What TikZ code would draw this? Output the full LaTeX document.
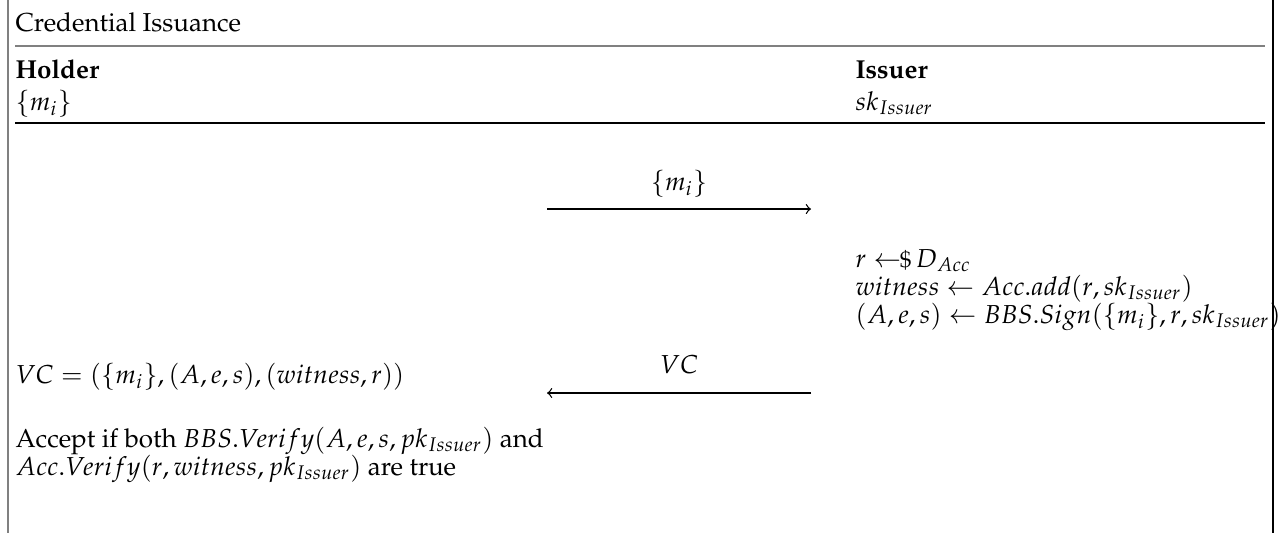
\documentclass[tikz,border=0pt]{standalone}
\usepackage[T1]{fontenc}
\usepackage{mathpazo}
\begin{document}
\begin{tikzpicture}[x=0.385pt,y=-0.385pt,
  txt/.style={anchor=base west,inner sep=0pt},
  msg/.style={anchor=base,inner sep=0pt},
  arr/.style={-to,line width=0.5pt},
  frameline/.style={line width=0.7pt}]
\useasboundingbox (0,0) rectangle (1288,533);
% frame
\coordinate (lt) at (8,0); \coordinate (lb) at (8,533);
\coordinate (rt) at (1273,0); \coordinate (rb) at (1273,533);
\coordinate (g1) at (15,46); \coordinate (g2) at (1265,46);
\coordinate (h1) at (15,123); \coordinate (h2) at (1265,123);
\draw[gray,line width=1pt] (lt) -- (lb);
\draw[frameline] (rt) -- (rb);
\draw[gray,line width=0.9pt] (g1) -- (g2);
\draw[line width=0.6pt] (h1) -- (h2);
% header
\node[txt] (title) at (15,31) {Credential Issuance};
\node[txt] (holder) at (15,78) {\textbf{Holder}};
\node[txt] (hm) at (15,110) {$\{m_i\}$};
\node[txt] (issuer) at (855,78) {\textbf{Issuer}};
\node[txt] (isk) at (855,110) {$sk_{Issuer}$};
% message 1
\coordinate (a1s) at (547,209); \coordinate (a1e) at (811,209);
\draw[arr] (a1s) -- (a1e);
\node[msg] (m1) at (679,190) {$\{m_i\}$};
% issuer computation
\node[txt] (c1) at (855,267) {$r \leftarrow\!\!\mbox{\small\$}\, D_{Acc}$};
\node[txt] (c2) at (855,295) {$witness \leftarrow Acc.add(r, sk_{Issuer})$};
\node[txt] (c3) at (855,323) {$(A, e, s) \leftarrow BBS.Sign(\{m_i\}, r, sk_{Issuer})$};
% message 2
\coordinate (a2s) at (811,393); \coordinate (a2e) at (547,393);
\draw[arr] (a2s) -- (a2e);
\node[msg] (m2) at (679,373) {$VC$};
% holder
\node[txt] (vc) at (15,383) {$VC = (\{m_i\}, (A, e, s), (witness, r))$};
\node[txt] (acc1) at (15,447) {Accept if both $BBS.Verify(A, e, s, pk_{Issuer})$ and};
\node[txt] (acc2) at (15,475) {$Acc.Verify(r, witness, pk_{Issuer})$ are true};
\end{tikzpicture}
\end{document}
